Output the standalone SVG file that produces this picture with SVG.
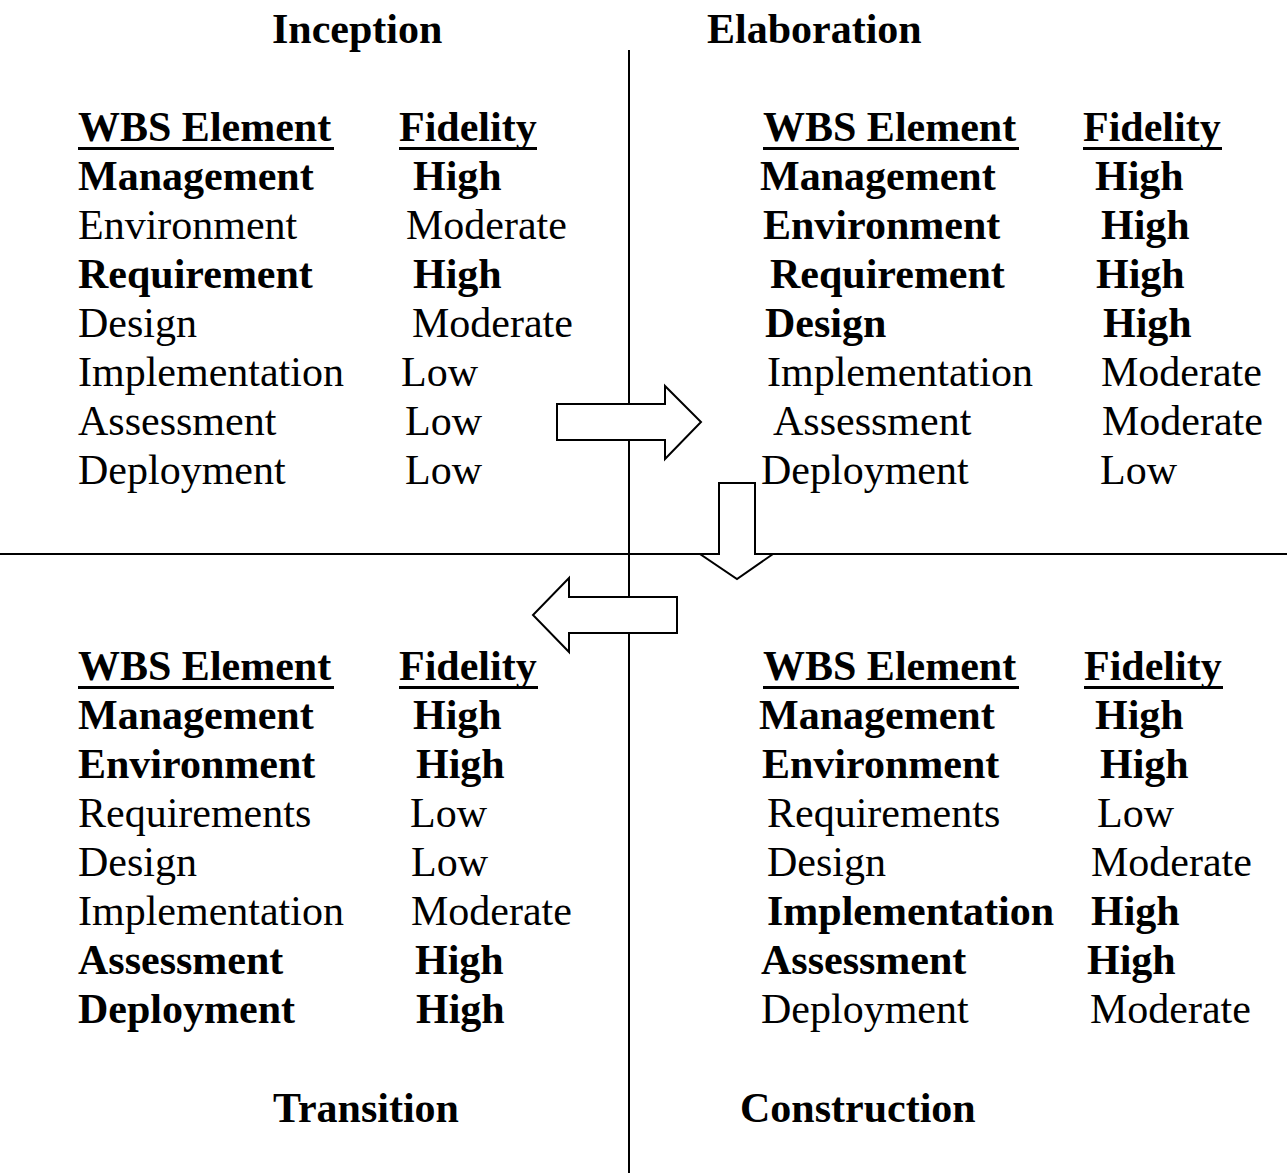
<svg xmlns="http://www.w3.org/2000/svg" width="1287" height="1173" viewBox="0 0 1287 1173">
<style>
text{font-family:"Liberation Serif","Times New Roman",serif;font-size:42px;fill:#000}
.b{font-weight:bold}
.t{font-weight:bold}
.ul{stroke:#000;stroke-width:3}
.div{stroke:#000;stroke-width:2;fill:none}
.arr{fill:#fff;stroke:#000;stroke-width:2;stroke-linejoin:miter}
</style>
<rect width="1287" height="1173" fill="#fff"/>
<g id="dividers">
<line class="div" x1="629" y1="50" x2="629" y2="1173"/>
<line class="div" x1="0" y1="554" x2="1287" y2="554"/>
</g>
<g id="inception">
<text class="t" x="272" y="43">Inception</text>
<text class="b" x="78" y="141">WBS Element</text>
<text class="b" x="399" y="141">Fidelity</text>
<line class="ul" x1="78" y1="148.5" x2="334" y2="148.5"/>
<line class="ul" x1="399" y1="148.5" x2="537" y2="148.5"/>
<text class="b" x="78" y="190">Management</text><text class="b" x="413" y="190">High</text>
<text x="78" y="239">Environment</text><text x="406" y="239">Moderate</text>
<text class="b" x="78" y="288">Requirement</text><text class="b" x="413" y="288">High</text>
<text x="78" y="337">Design</text><text x="412" y="337">Moderate</text>
<text x="78" y="386">Implementation</text><text x="401" y="386">Low</text>
<text x="78" y="435">Assessment</text><text x="405" y="435">Low</text>
<text x="78" y="484">Deployment</text><text x="405" y="484">Low</text>
</g>
<g id="elaboration">
<text class="t" x="707" y="43">Elaboration</text>
<text class="b" x="763" y="141">WBS Element</text>
<text class="b" x="1083" y="141">Fidelity</text>
<line class="ul" x1="763" y1="148.5" x2="1019" y2="148.5"/>
<line class="ul" x1="1083" y1="148.5" x2="1222" y2="148.5"/>
<text class="b" x="760" y="190">Management</text><text class="b" x="1095" y="190">High</text>
<text class="b" x="763" y="239">Environment</text><text class="b" x="1101" y="239">High</text>
<text class="b" x="770" y="288">Requirement</text><text class="b" x="1096" y="288">High</text>
<text class="b" x="765" y="337">Design</text><text class="b" x="1103" y="337">High</text>
<text x="767" y="386">Implementation</text><text x="1101" y="386">Moderate</text>
<text x="773" y="435">Assessment</text><text x="1102" y="435">Moderate</text>
<text x="761" y="484">Deployment</text><text x="1100" y="484">Low</text>
</g>
<g id="transition">
<text class="t" x="273" y="1122">Transition</text>
<text class="b" x="78" y="680">WBS Element</text>
<text class="b" x="399" y="680">Fidelity</text>
<line class="ul" x1="78" y1="687.5" x2="334" y2="687.5"/>
<line class="ul" x1="399" y1="687.5" x2="538" y2="687.5"/>
<text class="b" x="78" y="729">Management</text><text class="b" x="413" y="729">High</text>
<text class="b" x="78" y="778">Environment</text><text class="b" x="416" y="778">High</text>
<text x="78" y="827">Requirements</text><text x="410" y="827">Low</text>
<text x="78" y="876">Design</text><text x="411" y="876">Low</text>
<text x="78" y="925">Implementation</text><text x="411" y="925">Moderate</text>
<text class="b" x="78" y="974">Assessment</text><text class="b" x="415" y="974">High</text>
<text class="b" x="78" y="1023">Deployment</text><text class="b" x="416" y="1023">High</text>
</g>
<g id="construction">
<text class="t" x="740" y="1122">Construction</text>
<text class="b" x="763" y="680">WBS Element</text>
<text class="b" x="1084" y="680">Fidelity</text>
<line class="ul" x1="763" y1="687.5" x2="1019" y2="687.5"/>
<line class="ul" x1="1084" y1="687.5" x2="1223" y2="687.5"/>
<text class="b" x="759" y="729">Management</text><text class="b" x="1095" y="729">High</text>
<text class="b" x="762" y="778">Environment</text><text class="b" x="1100" y="778">High</text>
<text x="767" y="827">Requirements</text><text x="1097" y="827">Low</text>
<text x="767" y="876">Design</text><text x="1091" y="876">Moderate</text>
<text class="b" x="767" y="925">Implementation</text><text class="b" x="1091" y="925">High</text>
<text class="b" x="761" y="974">Assessment</text><text class="b" x="1087" y="974">High</text>
<text x="761" y="1023">Deployment</text><text x="1090" y="1023">Moderate</text>
</g>
<g id="connectors">
<polygon class="arr" points="557,404 665,404 665,386 701,422 665,459 665,440 557,440"/>
<polygon class="arr" points="719,483 755,483 755,554 773,554 737,579 700,554 719,554"/>
<polygon class="arr" points="677,597 569,597 569,578 533,615 569,652 569,633 677,633"/>
</g>
</svg>
